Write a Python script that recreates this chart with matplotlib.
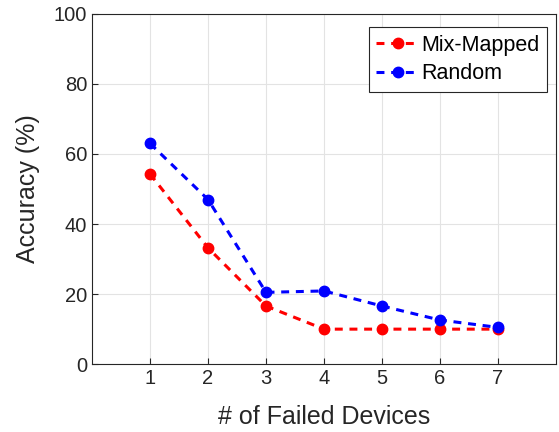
import matplotlib
matplotlib.use("Agg")
import matplotlib.pyplot as plt

plt.rcParams['font.family'] = ['Liberation Sans', 'DejaVu Sans']

devices = [1, 2, 3, 4, 5, 6, 7]
mix_mapped = [54.3, 33.2, 16.6, 10.0, 10.0, 10.0, 10.0]
random_map = [63.0, 47.0, 20.5, 20.9, 16.6, 12.6, 10.5]

fig = plt.figure(figsize=(5.59, 4.32), dpi=100)
ax = fig.add_axes([0.1646, 0.157, 0.83, 0.811])

ax.plot(devices, mix_mapped, color='red', ls=(0, (2.6, 2.2)), lw=2.2, marker='o', ms=7.5,
        label='Mix-Mapped')
ax.plot(devices, random_map, color='blue', ls=(0, (2.6, 2.2)), lw=2.2, marker='o', ms=7.5,
        label='Random')

ax.set_xlim(0, 8)
ax.set_ylim(0, 100)
ax.set_xticks(devices)
ax.set_yticks([0, 20, 40, 60, 80, 100])
ax.grid(True, color='#e3e3e3', lw=0.8)
ax.set_axisbelow(True)
ax.tick_params(direction='in', labelsize=14.5, length=4, colors='#262626', top=False, right=False)
for s in ax.spines.values():
    s.set_color('#262626')
    s.set_linewidth(0.8)

ax.set_xlabel('# of Failed Devices', fontsize=18, color='#262626', labelpad=12)
ax.set_ylabel('Accuracy (%)', fontsize=18, color='#262626', labelpad=10)

leg = ax.legend(loc='upper right', fontsize=15.5, fancybox=False, edgecolor='#262626',
                framealpha=1, handlelength=2.0, handletextpad=0.1, borderpad=0.35,
                labelspacing=0.35, borderaxespad=0.3, bbox_to_anchor=(0.995, 0.98))
leg.get_frame().set_linewidth(0.8)

fig.savefig('out.png', dpi=100)
